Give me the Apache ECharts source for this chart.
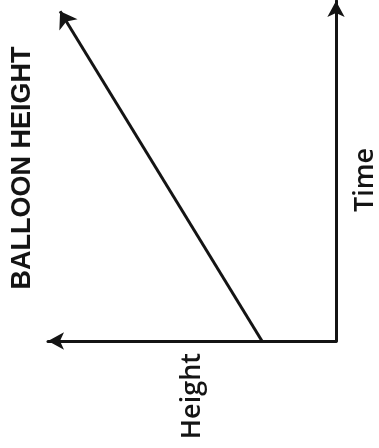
<!DOCTYPE html>
<html>
<head>
<meta charset="utf-8">
<script src="https://cdn.jsdelivr.net/npm/echarts@6/dist/echarts.min.js"></script>
<style>html,body{margin:0;padding:0;background:#fff;}#c{width:379px;height:448px;}</style>
</head>
<body>
<div id="c"></div>
<script>
const titleText = 'BALLOON HEIGHT';
const heightAxisName = 'Height';
const timeAxisName = 'Time';
// balloon height line: [height, time]
const lineHeights = [25.7, 95.8];
const lineTimes = [0, 97];

const chart = echarts.init(document.getElementById('c'));
const ink = '#141414';
chart.setOption({
  animation: false,
  grid: {left: 48, right: 43, top: 1, bottom: 107, containLabel: false, outerBoundsMode: 'none'},
  xAxis: {
    type: 'value', min: 0, max: 100, inverse: true,
    name: heightAxisName, nameLocation: 'middle', nameRotate: 90, nameGap: 12,
    nameTextStyle: {fontFamily: 'Open Sans', fontWeight: 600, fontSize: 27, color: ink, align: 'right', verticalAlign: 'middle', padding: [0, 0, 12, 0]},
    axisLine: {show: true, symbol: ['arrow', 'none'], symbolSize: [13, 16], lineStyle: {color: ink, width: 3}},
    axisTick: {show: false}, axisLabel: {show: false}, splitLine: {show: false}
  },
  yAxis: {
    type: 'value', min: 0, max: 100, position: 'right',
    name: timeAxisName, nameLocation: 'middle', nameRotate: 90, nameGap: 29,
    nameTextStyle: {fontFamily: 'Open Sans', fontWeight: 600, fontSize: 27, color: ink, align: 'center', verticalAlign: 'middle', padding: [0, 18, 0, 0]},
    axisLine: {show: true, symbol: ['none', 'arrow'], symbolSize: [13, 16], lineStyle: {color: ink, width: 3}},
    axisTick: {show: false}, axisLabel: {show: false}, splitLine: {show: false}
  },
  graphic: [{
    type: 'text', x: 23, y: 168, rotation: Math.PI / 2,
    style: {text: titleText, fontFamily: 'Liberation Sans', fontWeight: 'bold', fontSize: 27, fill: ink, align: 'center', verticalAlign: 'middle'}
  }],
  series: [{
    type: 'lines', coordinateSystem: 'cartesian2d',
    symbol: ['none', 'arrow'], symbolSize: [13, 16],
    lineStyle: {color: ink, width: 3, opacity: 1},
    data: [{coords: [[lineHeights[0], lineTimes[0]], [lineHeights[1], lineTimes[1]]]}]
  }]
});
</script>
</body>
</html>
